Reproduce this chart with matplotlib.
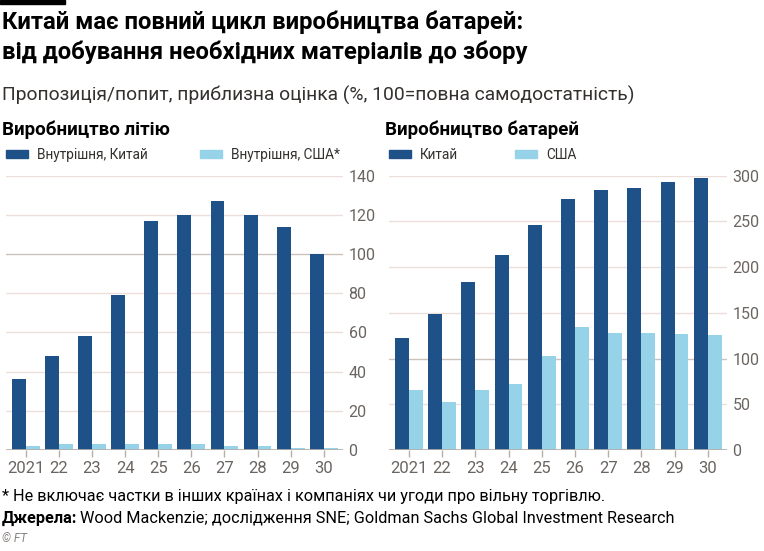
import matplotlib
matplotlib.use("Agg")
import matplotlib.pyplot as plt
from matplotlib.patches import Rectangle
import numpy as np

# Data
years = ["2021", "22", "23", "24", "25", "26", "27", "28", "29", "30"]
lithium_china = [36, 48, 58, 79, 117, 120, 127, 120, 114, 100]
lithium_us = [2, 3, 3, 3, 3, 3, 2, 2, 1, 1]
battery_china = [122, 149, 184, 213, 246, 275, 284, 287, 293, 298]
battery_us = [66, 53, 66, 72, 103, 134, 128, 128, 127, 126]

lithium_ticks = [0, 20, 40, 60, 80, 100, 120, 140]
battery_ticks = [0, 50, 100, 150, 200, 250, 300]

DARK = "#1f5189"
LIGHT = "#96d3e9"
GRID = "#ebe0d9"
GRID100 = "#cdc2ba"
TICKC = "#6b6561"

plt.rcParams["font.family"] = ["Roboto", "DejaVu Sans"]

W, H = 764, 551
fig = plt.figure(figsize=(W / 100, H / 100), dpi=100)
fig.patch.set_facecolor("white")


def fx(px):
    return px / W


def fy(py):
    return 1 - py / H


def panel(left_px, right_px, china, us, ticks, ymax, title, labels, leg_x):
    ax = fig.add_axes([fx(left_px), fy(450), fx(right_px - left_px), (450 - 175.7) / H])
    x = np.arange(len(years))
    bw = 0.42
    ax.bar(x - bw / 2, china, width=bw, color=DARK, zorder=3)
    ax.bar(x + bw / 2, us, width=bw, color=LIGHT, zorder=3)
    ax.set_xlim(-0.6, 9.58)
    ax.set_ylim(0, ymax)
    for t in ticks:
        if t == 0:
            continue
        c = GRID100 if t == 100 else GRID
        ax.axhline(t, color=c, lw=1, zorder=1)
    ax.axhline(0, color="#b5aea9", lw=1.2, zorder=4)
    for s in ax.spines.values():
        s.set_visible(False)
    ax.yaxis.tick_right()
    ax.set_yticks(ticks)
    ax.set_yticklabels([str(t) for t in ticks])
    ax.tick_params(axis="y", length=0, pad=4, labelsize=11.5, labelcolor=TICKC)
    ax.set_xticks(x)
    ax.set_xticklabels(years)
    ax.tick_params(axis="x", length=5, width=1, color="#b5aea9", pad=3,
                   labelsize=12, labelcolor=TICKC)
    ax.set_facecolor("none")
    # panel title
    fig.text(fx(left_px - 4), fy(130), title, fontsize=13.5, fontweight="bold",
             color="black", va="center", ha="left")
    # legend
    for lab, col, lx in zip(labels, [DARK, LIGHT], leg_x):
        fig.patches.append(Rectangle((fx(lx), fy(158)), fx(22), 8 / H,
                                     transform=fig.transFigure, color=col))
        fig.text(fx(lx + 31), fy(154.5), lab, fontsize=9.8, color="#33302e",
                 va="center", ha="left")
    return ax


panel(6, 343, lithium_china, lithium_us, lithium_ticks, 140, "Виробництво літію",
      ["Внутрішня, Китай", "Внутрішня, США*"], [6, 200])
panel(389, 727, battery_china, battery_us, battery_ticks, 300, "Виробництво батарей",
      ["Китай", "США"], [389, 515])

# header
fig.patches.append(Rectangle((0, fy(4)), fx(65), 4 / H, transform=fig.transFigure,
                             color="black"))
fig.text(fx(2), fy(22), "Китай має повний цикл виробництва батарей:", fontsize=17.2,
         fontweight="bold", color="black", va="center", ha="left")
fig.text(fx(2), fy(52), "від добування необхідних матеріалів до збору", fontsize=17.2,
         fontweight="bold", color="black", va="center", ha="left")
fig.text(fx(2), fy(95), "Пропозиція/попит, приблизна оцінка (%, 100=повна самодостатність)",
         fontsize=13.9, color="#33302e", va="center", ha="left")

# footer
fig.text(fx(2), fy(497), "* Не включає частки в інших країнах і компаніях чи угоди про вільну торгівлю.",
         fontsize=11.7, color="black", va="center", ha="left")
t = fig.text(fx(2), fy(518), "Джерела:", fontsize=11.7, fontweight="bold",
             color="black", va="center", ha="left")
fig.canvas.draw()
bb = t.get_window_extent()
fig.text(bb.x1 / W + fx(3), fy(518),
         "Wood Mackenzie; дослідження SNE; Goldman Sachs Global Investment Research",
         fontsize=11.7, color="black", va="center", ha="left")
fig.text(fx(2), fy(538), "© FT", fontsize=8.5, style="italic", color="#8a8480",
         va="center", ha="left")

fig.savefig("out.png", dpi=100)
